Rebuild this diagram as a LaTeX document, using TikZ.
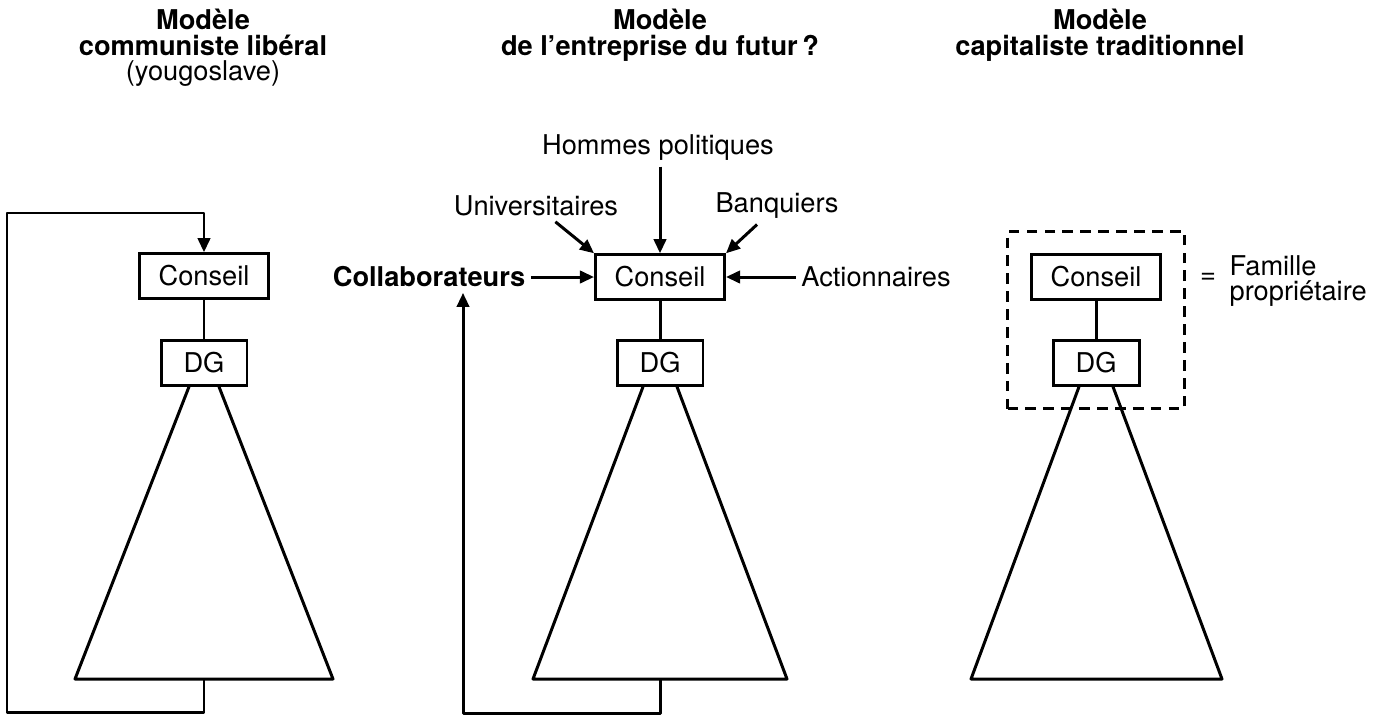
\documentclass[tikz,border=0pt]{standalone}
\usepackage{fontspec}
\setmainfont{TeX Gyre Heros}
\usetikzlibrary{arrows.meta,calc,fit}
\newcommand{\txt}{\fontsize{15.5}{14.5}\selectfont}

\tikzset{
  boite/.style={draw, line width=1.7pt, inner sep=0pt, minimum height=0.89cm, font=\txt},
  conseil/.style={boite, minimum width=2.58cm},
  dgbox/.style={boite, minimum width=1.72cm},
  lbl/.style={font=\txt, inner sep=3pt},
  titre/.style={font=\txt\bfseries, align=center, anchor=north, inner sep=0pt},
  trait/.style={line width=1.7pt, line join=round},
}

\begin{document}
\begin{tikzpicture}[x=0.02cm, y=-0.02cm, >={Triangle[length=8pt,width=7pt]}]
\useasboundingbox (0,0) rectangle (1391,717);

\node[titre] (t1) at (203,9) {Modèle\\communiste libéral\\{\mdseries (yougoslave)}};
\node[titre] (t2) at (660,9) {Modèle\\de l’entreprise du futur\,?};
\node[titre] (t3) at (1100,9) {Modèle\\capitaliste traditionnel};

% communiste
\node[conseil] (c1) at (204,276) {Conseil};
\node[dgbox] (d1) at (204,363) {DG};
\draw[trait] (c1) -- (d1);
\coordinate (b1) at (204,679);
\draw[trait] ($(d1.south)+(-15,0)$) -- (75,679) -- (333,679) -- ($(d1.south)+(15,0)$);
\draw[trait,->] (b1) -- ++(0,33) -| (7,213) -| (c1.north);

% futur
\node[conseil] (c2) at (660,277) {Conseil};
\node[dgbox] (d2) at (660,363) {DG};
\draw[trait] (c2) -- (d2);
\node[lbl] (hp) at (658,148) {Hommes politiques};
\node[lbl] (univ) at (536,206) {Universitaires};
\node[lbl] (banq) at (777,206) {Banquiers};
\node[lbl] (act) at (876,277) {Actionnaires};
\node[lbl, font=\txt\bfseries] (collab) at (429,277) {Collaborateurs};
\draw[trait,->] (hp.south -| c2) -- (c2);
\draw[trait,->] (univ) -- (c2.north west);
\draw[trait,->] (banq) -- (c2.north east);
\draw[trait,->] (act) -- (c2);
\draw[trait,->] (collab) -- (c2);
\coordinate (b2) at (660,679);
\draw[trait] ($(d2.south)+(-17,0)$) -- (533,679) -- (787,679) -- ($(d2.south)+(17,0)$);
\draw[trait,->] (b2) -- ++(0,34) -| ($(collab.south)+(34,0)$);

% capitaliste
\node[conseil] (c3) at (1096,277) {Conseil};
\node[dgbox] (d3) at (1096,363) {DG};
\draw[trait] (c3) -- (d3);
\draw[trait] ($(d3.south)+(-17,0)$) -- (971,679) -- (1222,679) -- ($(d3.south)+(17,0)$);
\node[draw, line width=1.7pt, dash pattern=on 6pt off 4.2pt, inner xsep=0.45cm, inner ysep=0.44cm, fit=(c3)(d3)] (fam) {};
\node[lbl] (eq) at (1208,278) {=};
\node[lbl, anchor=west, align=left] (famille) at (1224,281) {Famille\\propriétaire};
\end{tikzpicture}
\end{document}
